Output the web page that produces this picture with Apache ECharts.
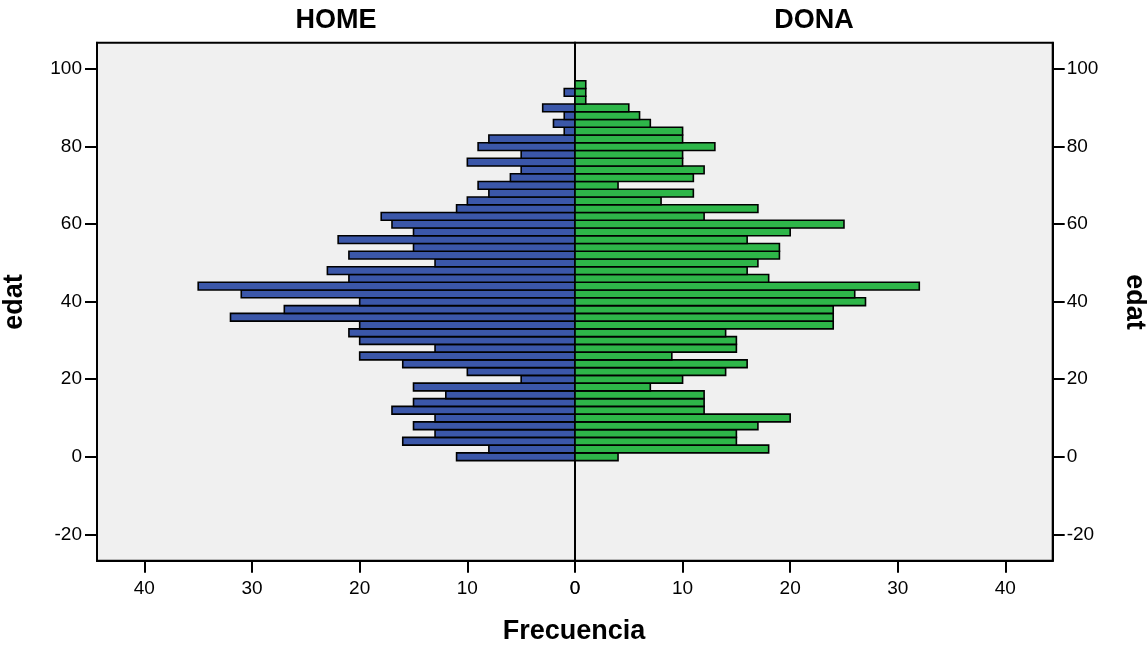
<!DOCTYPE html>
<html>
<head>
<meta charset="utf-8">
<script src="https://cdn.jsdelivr.net/npm/echarts@6/dist/echarts.min.js"></script>
<style>
html,body{margin:0;padding:0;background:#fff;}
#chart{width:1148px;height:650px;}
</style>
</head>
<body>
<div id="chart"></div>
<script>
// Age bins (centre of each 2-year bin)
const ages = [0,2,4,6,8,10,12,14,16,18,20,22,24,26,28,30,32,34,36,38,40,42,44,46,48,50,52,54,56,58,60,62,64,66,68,70,72,74,76,78,80,82,84,86,88,90,92,94,96];
// Frequencies – HOME (left, blue)
const home = [11,8,16,13,15,13,17,15,12,15,5,10,16,20,13,20,21,20,32,27,20,31,35,21,23,13,21,15,22,15,17,18,11,10,8,9,6,5,10,5,9,8,1,2,1,3,0,1,0];
// Frequencies – DONA (right, green)
const dona = [4,18,15,15,17,20,12,12,12,7,10,14,16,9,15,15,14,24,24,24,27,26,32,18,16,17,19,19,16,20,25,12,17,8,11,4,11,12,10,10,13,10,10,7,6,5,1,1,1];
// Tick labels
const xTicks = [0,10,20,30,40];
const yTicks = [-20,0,20,40,60,80,100];
const panelTitles = ['HOME','DONA'];
const xTitle = 'Frecuencia';
const yTitle = 'edat';

const FONT = '"Liberation Sans", Arial, sans-serif';
const binHalf = 1;

function makeRender(color){
  return function(params, api){
    const c = api.value(0), a = api.value(1);
    if (!c) return null;
    const p0 = api.coord([0, a + binHalf]);
    const p1 = api.coord([c, a - binHalf]);
    return {
      type:'rect',
      shape:{x:Math.min(p0[0],p1[0]), y:Math.min(p0[1],p1[1]), width:Math.abs(p1[0]-p0[0]), height:Math.abs(p1[1]-p0[1])},
      style:{fill:color, stroke:'#000', lineWidth:1.6}
    };
  };
}

function xAxisCfg(idx, inverse){
  return {
    gridIndex: idx, type:'value', min:0, max:44.4, inverse: inverse, position:'bottom',
    axisLine:{show:true, onZero:false, lineStyle:{color:'#000', width:2}},
    axisTick:{show:true, customValues:xTicks, length:12, lineStyle:{color:'#000', width:2}},
    axisLabel:{show:true, customValues:xTicks, margin:19, color:'#000', fontSize:19, fontFamily:FONT},
    splitLine:{show:false}
  };
}
function yAxisCfg(idx, pos){
  return {
    gridIndex: idx, type:'value', min:-26.8, max:106.8, position: pos,
    axisLine:{show:true, onZero:false, lineStyle:{color:'#000', width:2}},
    axisTick:{show:true, customValues:yTicks, length:12, lineStyle:{color:'#000', width:2}},
    axisLabel:{show:true, customValues:yTicks, margin:pos==='left'?15:14, color:'#000', fontSize:19, fontFamily:FONT},
    splitLine:{show:false}
  };
}

const chart = echarts.init(document.getElementById('chart'), null, {renderer:'canvas'});
chart.setOption({
  animation:false,
  backgroundColor:'#fff',
  grid:[
    {left:97, right:573, top:42.7, bottom:89.3, show:true, backgroundColor:'#f0f0f0', borderColor:'#000', borderWidth:2},
    {left:575, right:95.3, top:42.7, bottom:89.3, show:true, backgroundColor:'#f0f0f0', borderColor:'#000', borderWidth:2}
  ],
  xAxis:[xAxisCfg(0,true), xAxisCfg(1,false)],
  yAxis:[yAxisCfg(0,'left'), yAxisCfg(1,'right')],
  series:[
    {type:'custom', xAxisIndex:0, yAxisIndex:0, renderItem:makeRender('#3b57a9'),
     encode:{x:0,y:1}, data: ages.map((a,i)=>[home[i], a])},
    {type:'custom', xAxisIndex:1, yAxisIndex:1, renderItem:makeRender('#2eb649'),
     encode:{x:0,y:1}, data: ages.map((a,i)=>[dona[i], a])}
  ],
  graphic:[
    {type:'text', x:336, y:21, style:{text:panelTitles[0], font:'bold 27px '+FONT, fill:'#000', align:'center', verticalAlign:'middle'}},
    {type:'text', x:814, y:21, style:{text:panelTitles[1], font:'bold 27px '+FONT, fill:'#000', align:'center', verticalAlign:'middle'}},
    {type:'text', x:574, y:632, style:{text:xTitle, font:'bold 27px '+FONT, fill:'#000', align:'center', verticalAlign:'middle'}},
    {type:'text', x:15, y:302, rotation:Math.PI/2, style:{text:yTitle, font:'bold 27px '+FONT, fill:'#000', align:'center', verticalAlign:'middle'}},
    {type:'text', x:1134, y:302, rotation:-Math.PI/2, style:{text:yTitle, font:'bold 27px '+FONT, fill:'#000', align:'center', verticalAlign:'middle'}}
  ]
});
</script>
</body>
</html>
